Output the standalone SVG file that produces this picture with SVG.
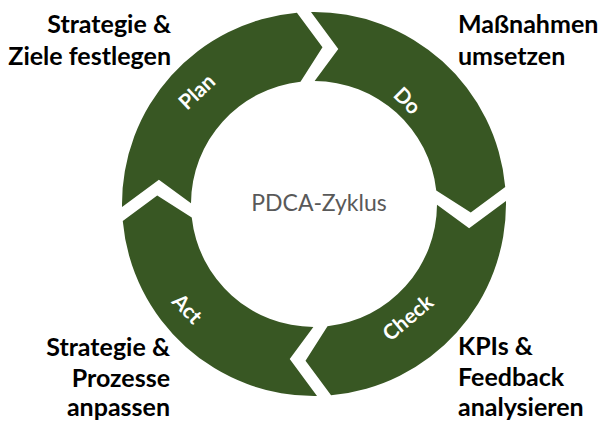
<svg xmlns="http://www.w3.org/2000/svg" xmlns:xlink="http://www.w3.org/1999/xlink" width="603" height="421" viewBox="0 0 603 421">
  <style>
    .seg { fill: #385723; }
    .seglabel { font-family: Lato, "Liberation Sans", sans-serif; font-weight: bold; font-size: 21px; fill: #ffffff; text-anchor: middle; }
    .note { font-family: Lato, "Liberation Sans", sans-serif; font-weight: bold; font-size: 25px; fill: #000000; }
    .end { text-anchor: end; }
    .start { text-anchor: start; }
    .center { font-family: Lato, "Liberation Sans", sans-serif; font-size: 23px; fill: #595959; text-anchor: middle; }
  </style>
  <defs>
    <path id="segment" class="seg" d="M191.87,7.04 A192,192 0 0 1 7.04,191.87 L-16.68,156.11 L7.08,122.80 A123,123 0 0 0 122.80,7.08 L153.63,32.37 Z"/>
  </defs>
  <rect width="603" height="421" fill="#ffffff"/>
  <g id="connectors"/>
  <g id="plan">
    <use xlink:href="#segment" href="#segment" transform="translate(314,204) rotate(177)"/>
    <text class="seglabel" transform="translate(197,92) rotate(-43)" x="0" y="7">Plan</text>
  </g>
  <g id="do">
    <use xlink:href="#segment" href="#segment" transform="translate(314,204) rotate(-93)"/>
    <text class="seglabel" transform="translate(407,101) rotate(45)" x="0" y="7">Do</text>
  </g>
  <g id="check">
    <use xlink:href="#segment" href="#segment" transform="translate(314,204) rotate(-3)"/>
    <text class="seglabel" transform="translate(408,318) rotate(-40)" x="0" y="7">Check</text>
  </g>
  <g id="act">
    <use xlink:href="#segment" href="#segment" transform="translate(314,204) rotate(87)"/>
    <text class="seglabel" transform="translate(187,309) rotate(46)" x="0" y="7">Act</text>
  </g>
  <g id="center-label">
    <text class="center" x="319" y="211">PDCA-Zyklus</text>
  </g>
  <g id="note-plan">
    <text class="note end" x="171" y="33">Strategie &amp;</text>
    <text class="note end" x="171" y="65">Ziele festlegen</text>
  </g>
  <g id="note-do">
    <text class="note start" x="458" y="33">Maßnahmen</text>
    <text class="note start" x="458" y="65">umsetzen</text>
  </g>
  <g id="note-check">
    <text class="note start" x="458" y="355">KPIs &amp;</text>
    <text class="note start" x="458" y="386">Feedback</text>
    <text class="note start" x="458" y="416">analysieren</text>
  </g>
  <g id="note-act">
    <text class="note end" x="170" y="356">Strategie &amp;</text>
    <text class="note end" x="170" y="387">Prozesse</text>
    <text class="note end" x="170" y="416">anpassen</text>
  </g>
</svg>
